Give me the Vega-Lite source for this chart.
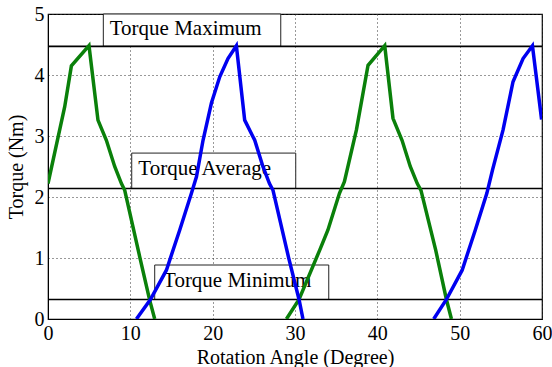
{
  "$schema": "https://vega.github.io/schema/vega-lite/v6.json",
  "autosize": "none",
  "padding": {"left": 48, "top": 14, "right": 10, "bottom": 48},
  "width": 494,
  "height": 305,
  "background": "white",
  "config": {
    "view": {"stroke": "#000", "strokeWidth": 1.2},
    "axis": {
      "labelFont": "Liberation Serif",
      "labelFontSize": 20,
      "labelColor": "#000",
      "titleFont": "Liberation Serif",
      "titleFontSize": 20,
      "titleFontWeight": "normal",
      "titleColor": "#000",
      "domainColor": "#000",
      "grid": true,
      "gridDash": [1, 3],
      "gridColor": "#333",
      "gridOpacity": 1,
      "ticks": false,
      "labelFlush": false
    }
  },
  "datasets": {
    "curves": [
      {"x": 0, "y": 2.22, "series": "A", "seg": "A1"},
      {"x": 2.03, "y": 3.48, "series": "A", "seg": "A1"},
      {"x": 2.84, "y": 4.15, "series": "A", "seg": "A1"},
      {"x": 4.98, "y": 4.48, "series": "A", "seg": "A1"},
      {"x": 6.07, "y": 3.26, "series": "A", "seg": "A1"},
      {"x": 7.09, "y": 2.93, "series": "A", "seg": "A1"},
      {"x": 8.1, "y": 2.5, "series": "A", "seg": "A1"},
      {"x": 8.92, "y": 2.22, "series": "A", "seg": "A1"},
      {"x": 9.32, "y": 2.11, "series": "A", "seg": "A1"},
      {"x": 11.14, "y": 1.02, "series": "A", "seg": "A1"},
      {"x": 12.35, "y": 0.31, "series": "A", "seg": "A1"},
      {"x": 12.96, "y": 0, "series": "A", "seg": "A1"},
      {"x": 28.96, "y": 0, "series": "A", "seg": "A2"},
      {"x": 30.49, "y": 0.32, "series": "A", "seg": "A2"},
      {"x": 33.0, "y": 1.13, "series": "A", "seg": "A2"},
      {"x": 34.0, "y": 1.46, "series": "A", "seg": "A2"},
      {"x": 35.4, "y": 2.06, "series": "A", "seg": "A2"},
      {"x": 36.0, "y": 2.25, "series": "A", "seg": "A2"},
      {"x": 37.46, "y": 3.1, "series": "A", "seg": "A2"},
      {"x": 38.87, "y": 4.16, "series": "A", "seg": "A2"},
      {"x": 40.9, "y": 4.48, "series": "A", "seg": "A2"},
      {"x": 41.9, "y": 3.29, "series": "A", "seg": "A2"},
      {"x": 43.0, "y": 2.93, "series": "A", "seg": "A2"},
      {"x": 44.0, "y": 2.5, "series": "A", "seg": "A2"},
      {"x": 44.85, "y": 2.22, "series": "A", "seg": "A2"},
      {"x": 45.3, "y": 2.11, "series": "A", "seg": "A2"},
      {"x": 47.09, "y": 1.13, "series": "A", "seg": "A2"},
      {"x": 48.39, "y": 0.32, "series": "A", "seg": "A2"},
      {"x": 49.0, "y": 0, "series": "A", "seg": "A2"},
      {"x": 10.74, "y": 0, "series": "B", "seg": "B1"},
      {"x": 12.44, "y": 0.32, "series": "B", "seg": "B1"},
      {"x": 14.38, "y": 0.8, "series": "B", "seg": "B1"},
      {"x": 16.0, "y": 1.46, "series": "B", "seg": "B1"},
      {"x": 17.42, "y": 2.06, "series": "B", "seg": "B1"},
      {"x": 18.03, "y": 2.33, "series": "B", "seg": "B1"},
      {"x": 18.83, "y": 2.93, "series": "B", "seg": "B1"},
      {"x": 19.85, "y": 3.54, "series": "B", "seg": "B1"},
      {"x": 20.86, "y": 3.97, "series": "B", "seg": "B1"},
      {"x": 21.86, "y": 4.27, "series": "B", "seg": "B1"},
      {"x": 22.88, "y": 4.48, "series": "B", "seg": "B1"},
      {"x": 23.89, "y": 3.26, "series": "B", "seg": "B1"},
      {"x": 25.11, "y": 2.93, "series": "B", "seg": "B1"},
      {"x": 26.1, "y": 2.5, "series": "B", "seg": "B1"},
      {"x": 26.9, "y": 2.22, "series": "B", "seg": "B1"},
      {"x": 27.33, "y": 2.11, "series": "B", "seg": "B1"},
      {"x": 29.2, "y": 1.02, "series": "B", "seg": "B1"},
      {"x": 30.49, "y": 0.32, "series": "B", "seg": "B1"},
      {"x": 30.97, "y": 0, "series": "B", "seg": "B1"},
      {"x": 46.85, "y": 0, "series": "B", "seg": "B2"},
      {"x": 48.39, "y": 0.32, "series": "B", "seg": "B2"},
      {"x": 50.3, "y": 0.8, "series": "B", "seg": "B2"},
      {"x": 51.9, "y": 1.46, "series": "B", "seg": "B2"},
      {"x": 53.3, "y": 2.06, "series": "B", "seg": "B2"},
      {"x": 54.0, "y": 2.45, "series": "B", "seg": "B2"},
      {"x": 55.27, "y": 3.1, "series": "B", "seg": "B2"},
      {"x": 56.48, "y": 3.89, "series": "B", "seg": "B2"},
      {"x": 57.7, "y": 4.27, "series": "B", "seg": "B2"},
      {"x": 58.84, "y": 4.48, "series": "B", "seg": "B2"},
      {"x": 59.95, "y": 3.27, "series": "B", "seg": "B2"}
    ],
    "boxes": [
      {"x": 6.72, "x2": 28.27, "y": 4.47, "y2": 5, "label": "Torque Maximum", "tx": 7.5, "ty": 4.66},
      {"x": 10.17, "x2": 30.09, "y": 2.14, "y2": 2.72, "label": "Torque Average", "tx": 10.97, "ty": 2.36},
      {"x": 12.96, "x2": 34.1, "y": 0.32, "y2": 0.885, "label": "Torque Minimum", "tx": 13.97, "ty": 0.53}
    ],
    "levels": [
      {"level": "Maximum", "y": 4.47},
      {"level": "Average", "y": 2.14},
      {"level": "Minimum", "y": 0.32}
    ]
  },
  "layer": [
    {
      "data": {"name": "boxes"},
      "mark": {"type": "rect", "fill": "white", "stroke": "#222", "strokeWidth": 1},
      "encoding": {
        "x": {"field": "x", "type": "quantitative", "scale": {"domain": [0, 60], "nice": false, "zero": false}, "axis": {"values": [0, 10, 20, 30, 40, 50, 60], "format": "d", "title": "Rotation Angle (Degree)", "labelPadding": 4, "titlePadding": 4}},
        "x2": {"field": "x2"},
        "y": {"field": "y", "type": "quantitative", "scale": {"domain": [0, 5], "nice": false}, "axis": {"values": [0, 1, 2, 3, 4, 5], "format": "d", "title": "Torque (Nm)", "labelPadding": 4, "titlePadding": 8}},
        "y2": {"field": "y2"}
      }
    },
    {
      "data": {"name": "boxes"},
      "mark": {"type": "text", "align": "left", "baseline": "alphabetic", "font": "Liberation Serif", "fontSize": 21, "color": "#000"},
      "encoding": {
        "x": {"field": "tx", "type": "quantitative"},
        "y": {"field": "ty", "type": "quantitative"},
        "text": {"field": "label"}
      }
    },
    {
      "data": {"name": "levels"},
      "mark": {"type": "rule", "color": "#000", "strokeWidth": 1.6},
      "encoding": {
        "y": {"field": "y", "type": "quantitative"}
      }
    },
    {
      "data": {"name": "curves"},
      "mark": {"type": "line", "strokeWidth": 3.5, "clip": true},
      "encoding": {
        "x": {"field": "x", "type": "quantitative"},
        "y": {"field": "y", "type": "quantitative"},
        "color": {"field": "series", "type": "nominal", "scale": {"domain": ["A", "B"], "range": ["#0a800a", "#0000f0"]}, "legend": null},
        "detail": {"field": "seg"},
        "order": {"field": "x", "type": "quantitative"}
      }
    }
  ]
}
